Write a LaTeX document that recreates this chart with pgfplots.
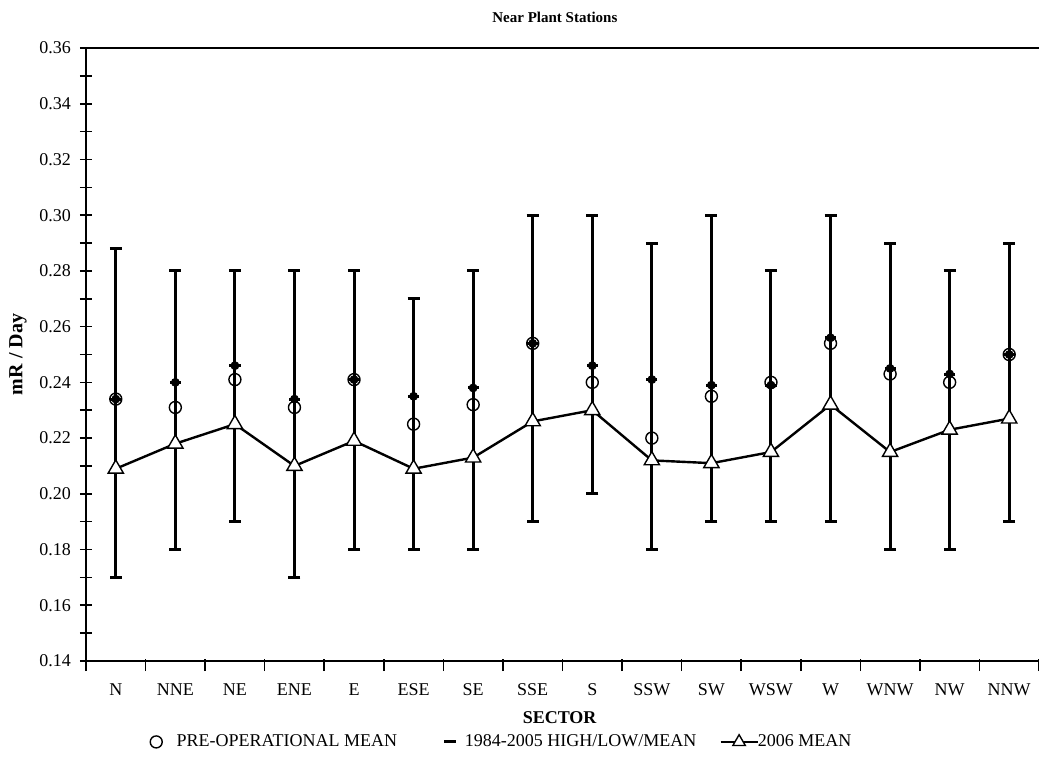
\documentclass[border=0pt]{standalone}
\usepackage{fontspec}
\setmainfont{Liberation Serif}
\usepackage{pgfplots}
\usepackage{pgfplotstable}
\pgfplotsset{compat=1.18}

% sector, low, high, 1984-2005 mean, pre-operational mean, 2006 mean
\pgfplotstableread{
x  low   high  mean  pre   cur
1  0.170 0.288 0.234 0.234 0.209
2  0.180 0.280 0.240 0.231 0.218
3  0.190 0.280 0.246 0.241 0.225
4  0.170 0.280 0.234 0.231 0.210
5  0.180 0.280 0.241 0.241 0.219
6  0.180 0.270 0.235 0.225 0.209
7  0.180 0.280 0.238 0.232 0.213
8  0.190 0.300 0.254 0.254 0.226
9  0.200 0.300 0.246 0.240 0.230
10 0.180 0.290 0.241 0.220 0.212
11 0.190 0.300 0.239 0.235 0.211
12 0.190 0.280 0.239 0.240 0.215
13 0.190 0.300 0.256 0.254 0.232
14 0.180 0.290 0.245 0.243 0.215
15 0.180 0.280 0.243 0.240 0.223
16 0.190 0.290 0.250 0.250 0.227
}\datatable

\begin{document}
\begin{tikzpicture}
\begin{axis}[
    scale only axis,
    width=476.5pt, height=306.5pt,
    font=\fontsize{9}{10}\selectfont,
    xmin=0.5, xmax=16.5,
    ymin=0.14, ymax=0.36,
    axis x line*=bottom, axis y line*=left,
    axis line style={line width=1pt},
    xtick={0.5,1.5,...,16.5},
    xticklabels={N,NNE,NE,ENE,E,ESE,SE,SSE,S,SSW,SW,WSW,W,WNW,NW,NNW,{}},
    xticklabel style={xshift=14.89pt, yshift=-5pt},
    xtick style={yshift=-2pt},
    ytick={0.14,0.16,...,0.361},
    minor y tick num=1,
    tick align=center,
    major tick length=6pt, minor tick length=6pt,
    tick style={black, line width=0.8pt},
    yticklabel style={xshift=-1pt, /pgf/number format/fixed,
        /pgf/number format/fixed zerofill, /pgf/number format/precision=2,
        /pgf/number format/assume math mode=true},
    title={\fontsize{7.5}{9}\selectfont\bfseries Near Plant Stations},
    title style={at={(axis description cs:0.492,1.031)}, anchor=center},
    xlabel={\bfseries SECTOR},
    xlabel style={at={(axis description cs:0.497,-0.093)}, anchor=center},
    ylabel={\fontsize{10}{12}\selectfont\bfseries mR / Day},
    ylabel style={at={(axis description cs:-0.0714,0.5)}, anchor=center, rotate=0},
    legend columns=3,
    legend style={draw=none, at={(0.0674,-0.132)}, anchor=west,
        inner sep=0pt, outer sep=0pt,
        font=\fontsize{9}{10}\selectfont,
        /tikz/every odd column/.append style={column sep=-2.5pt},
        /tikz/every even column/.append style={column sep=9.5pt}},
    legend cell align=left,
    after end axis/.code={\draw[line width=1pt] (rel axis cs:0,1) -- (rel axis cs:1,1);},
]
% high/low range
\addplot[only marks, mark=none, forget plot,
    error bars/.cd, y dir=both, y explicit,
    error mark=|, error mark options={line width=1.5pt, mark size=3pt, black},
    error bar style={line width=1.5pt, black}]
    table[x=x, y=mean, y error plus expr=\thisrow{high}-\thisrow{mean},
          y error minus expr=\thisrow{mean}-\thisrow{low}] {\datatable};
% pre-operational mean
\addplot[only marks, mark=o, mark size=3pt, mark options={fill=white, line width=0.7pt}, black,
    legend image code/.code={%
        \draw[mark=o, mark size=3pt, mark options={fill=white, line width=0.7pt}, black]
            plot coordinates {(0pt,0pt)};
        \path (10.5pt,0pt);}]
    table[x=x, y=pre] {\datatable};
\addlegendentry{PRE-OPERATIONAL MEAN}
% 1984-2005 mean
\addplot[only marks, mark=-, mark size=2.8pt, mark options={line width=1.5pt}, black,
    legend image code/.code={%
        \path (-14.5pt,0pt);
        \draw[mark=-, mark size=3pt, mark options={line width=1.5pt}, black]
            plot coordinates {(0pt,0pt)};
        \path (8pt,0pt);}]
    table[x=x, y=mean] {\datatable};
\addlegendentry{1984-2005 HIGH/LOW/MEAN}
% 2006 mean
\addplot[black, line width=1.2pt, mark=triangle*, mark size=4.4pt,
    mark options={fill=white, line width=0.7pt},
    legend image code/.code={%
        \draw[black, line width=1.2pt] (0pt,0pt) -- (18.5pt,0pt);
        \draw[mark=triangle*, mark size=3.6pt, mark options={fill=white, line width=0.7pt}, black]
            plot coordinates {(9.25pt,0pt)};}]
    table[x=x, y=cur] {\datatable};
\addlegendentry{2006 MEAN}
\end{axis}
\pgfresetboundingbox
\path (-43pt,-50pt) rectangle (476.5pt,330.5pt);
\end{tikzpicture}
\end{document}
